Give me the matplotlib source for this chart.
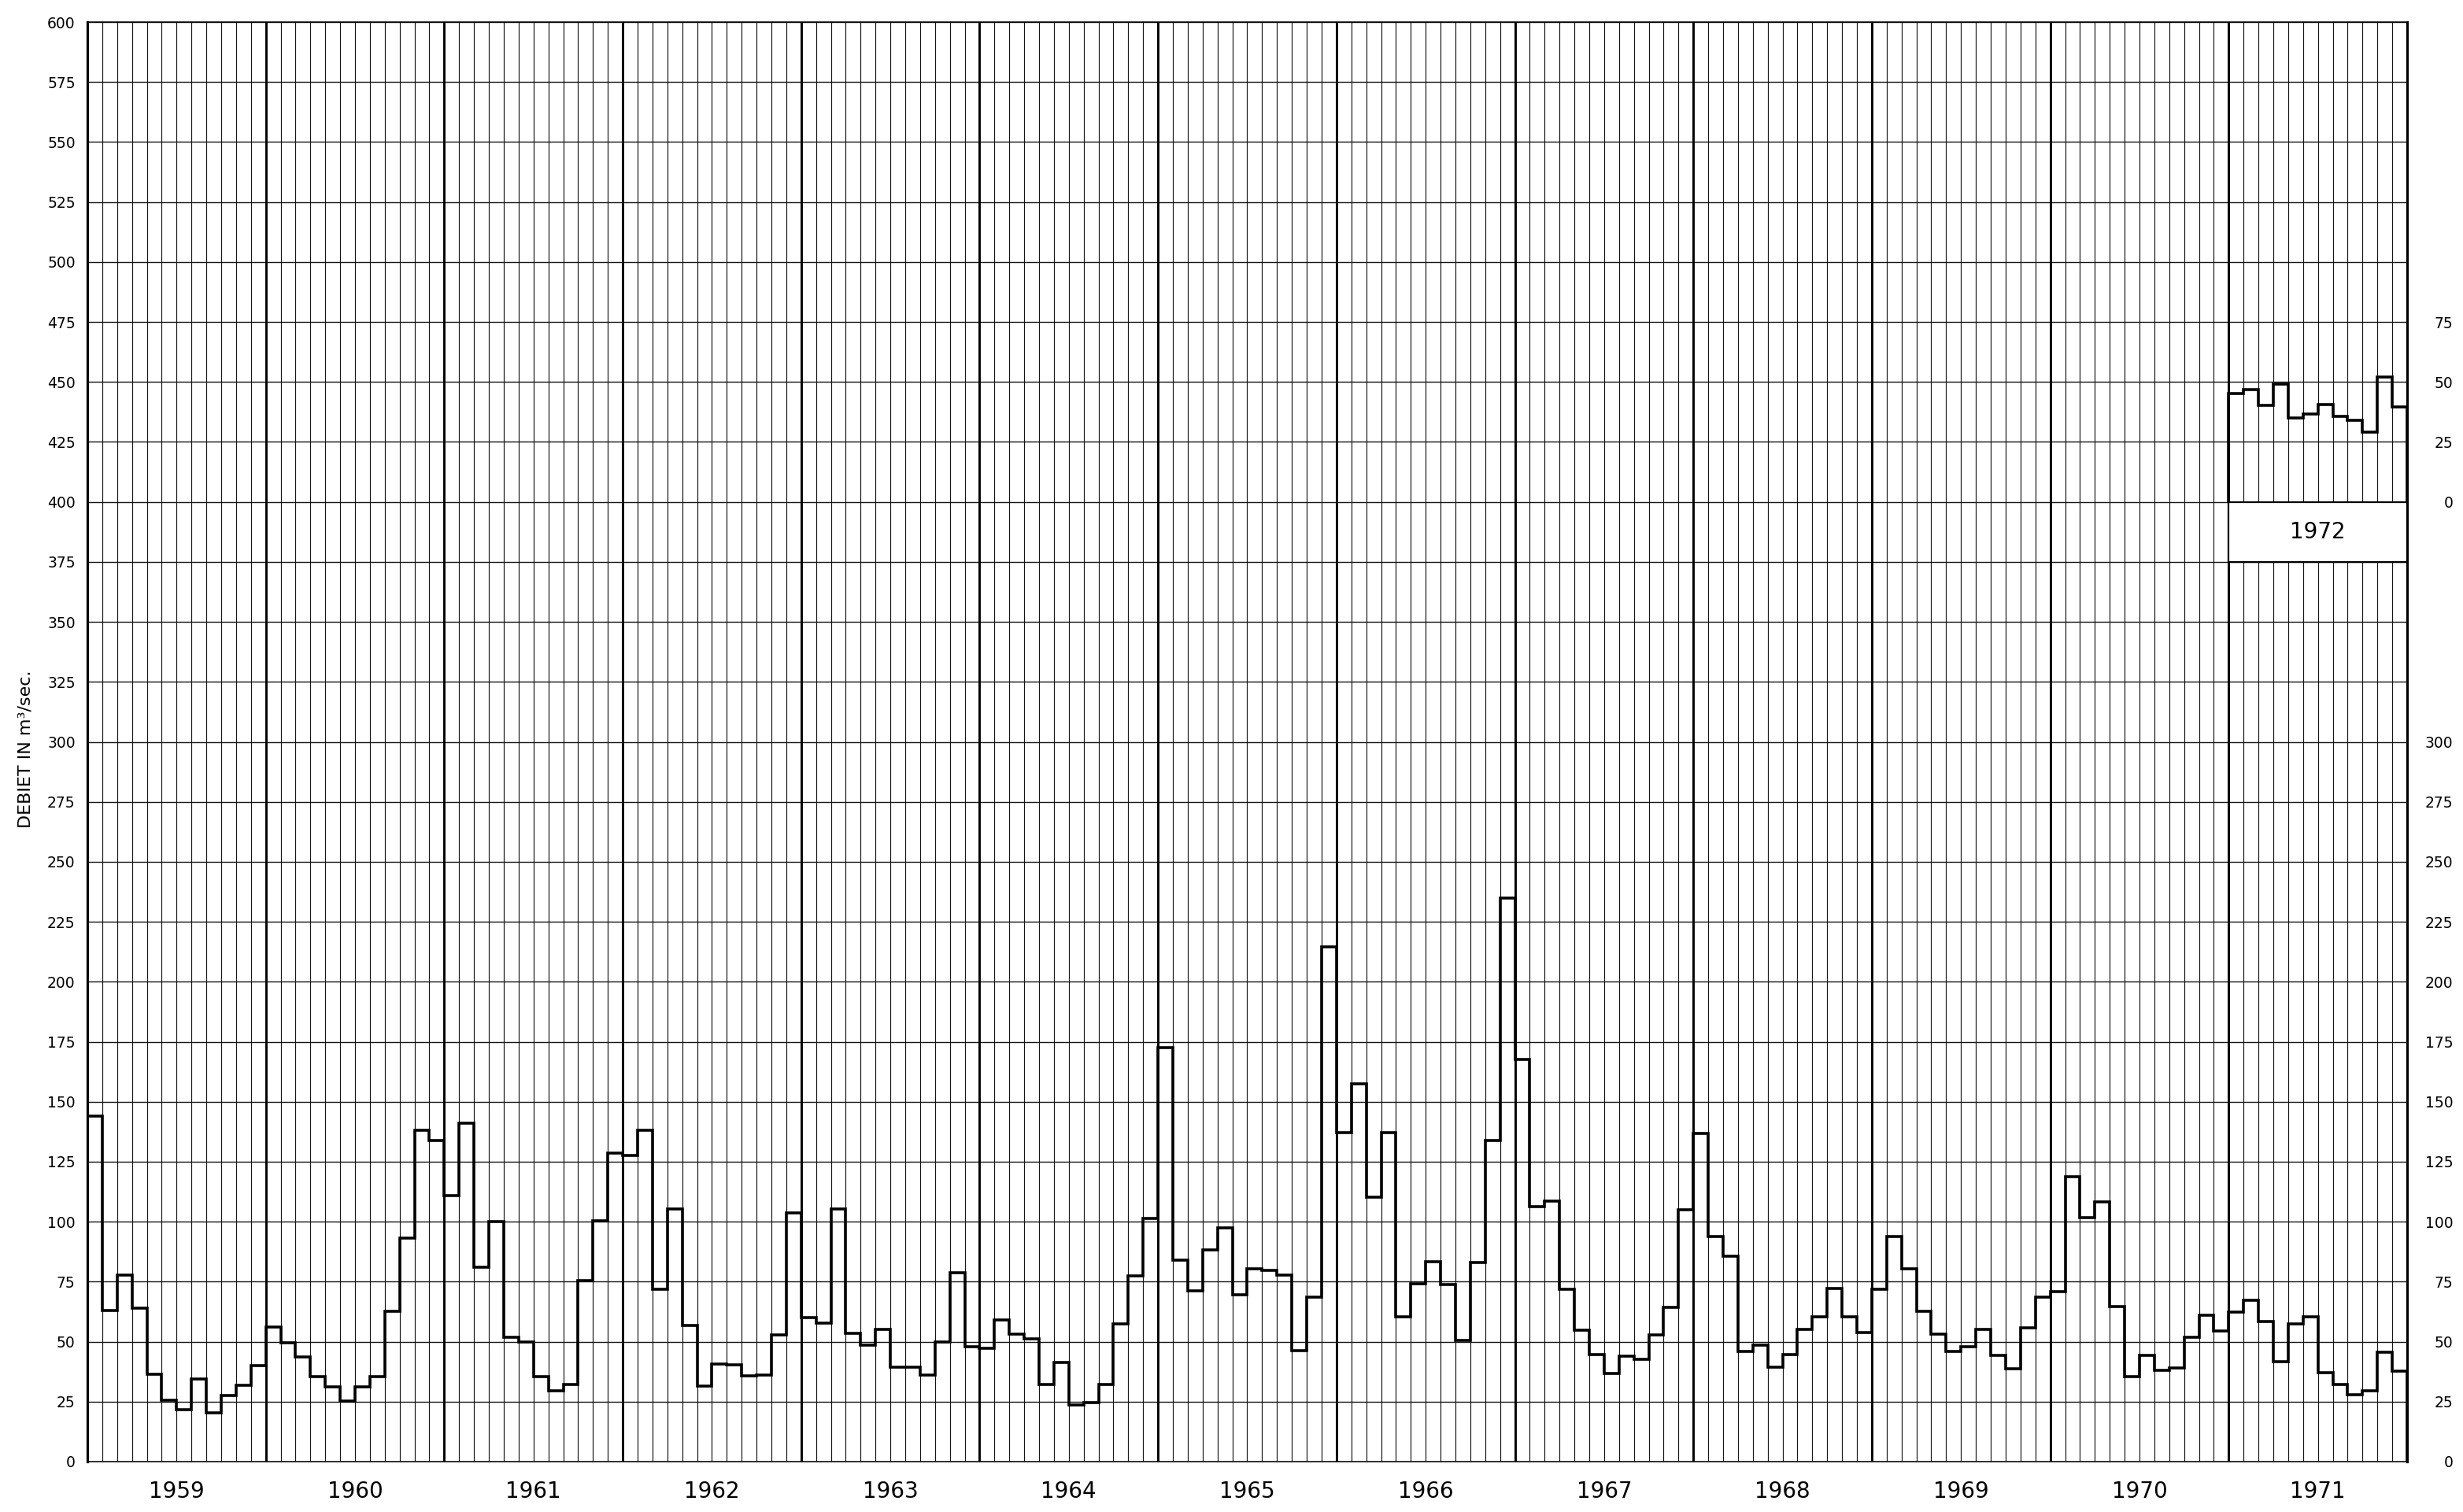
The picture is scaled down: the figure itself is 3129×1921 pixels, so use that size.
import numpy as np
import matplotlib
matplotlib.use("Agg")
import matplotlib.pyplot as plt
from matplotlib.patches import Rectangle

# ---------------- data (monthly discharge, m3/sec) ----------------
years = [1959, 1960, 1961, 1962, 1963, 1964, 1965, 1966, 1967, 1968, 1969, 1970, 1971]

q1959 = [144, 63, 77.7, 64, 36.5, 25.7, 21.8, 34.3, 20.5, 27.5, 31.8, 40]
q1960 = [56, 49.5, 43.7, 35.3, 31, 25.3, 31.2, 35.3, 62.5, 93, 138, 134]
q1961 = [111, 141, 81, 100, 51.7, 50, 35.5, 29.5, 32, 75.5, 100.5, 128.7]
q1962 = [127.5, 138, 71.7, 105.3, 56.7, 31.5, 40.8, 40.5, 35.8, 36.2, 52.8, 103.8]
q1963 = [60, 57.8, 105.3, 53.5, 48.7, 55, 39.2, 39.5, 36.2, 50, 78.7, 47.8]
q1964 = [47.2, 59.2, 53.2, 51.3, 32.2, 41.3, 23.7, 24.7, 32, 57.5, 77.5, 101.5]
q1965 = [172.7, 84, 71.2, 88.3, 97.3, 69.5, 80.3, 79.7, 77.8, 46.2, 68.7, 214.7]
q1966 = [137, 157.5, 110.3, 137.2, 60.5, 74, 83.3, 73.8, 50.5, 83, 133.7, 235]
q1967 = [167.5, 106.3, 108.7, 72, 54.7, 44.7, 36.7, 43.8, 42.5, 52.8, 64.2, 105]
q1968 = [136.7, 93.8, 85.5, 45.8, 48.7, 39.2, 44.7, 55, 60.5, 72.2, 60.5, 53.8]
q1969 = [71.7, 93.8, 80.3, 62.8, 53, 45.8, 48, 55, 44.2, 38.7, 55.9, 68.6]
q1970 = [70.7, 118.7, 101.8, 108.2, 64.7, 35.5, 44.3, 38, 39, 51.8, 61, 54.3]
q1971 = [62.2, 67.2, 58.3, 41.6, 57.5, 60.3, 37, 32, 28, 29.5, 45.5, 37.8]

inset_year = "1972"
q1972 = [45, 46.9, 40.2, 49.2, 35, 36.5, 40.6, 35.8, 33.9, 29.1, 52, 39.6]

left_ticks = list(range(0, 601, 25))
right_ticks = list(range(0, 301, 25))
inset_ticks = [0, 25, 50, 75]
inset_offset = 400          # inset zero line on main scale
inset_box_bottom = 375      # bottom of the label box of the inset

ylabel = "DEBIET IN m³/sec."

# ---------------- figure ----------------
plt.rcParams["font.family"] = ["DejaVu Sans"]
fig = plt.figure(figsize=(31.29, 19.21), dpi=100)
fig.patch.set_facecolor("white")
ax = fig.add_axes([0.03547, 0.03332, 0.94184, 0.9521])

series = [q1959, q1960, q1961, q1962, q1963, q1964, q1965,
          q1966, q1967, q1968, q1969, q1970, q1971]
values = np.concatenate([np.asarray(s, float) for s in series])
n = len(values)
edges = np.arange(n + 1)

ax.set_xlim(0, n)
ax.set_ylim(0, 600)

# month / year vertical grid
for e in edges:
    is_year = (e % 12 == 0)
    ax.axvline(e, color="black" if is_year else "0.08",
               lw=2.1 if is_year else 0.85, zorder=1)

# horizontal grid
ax.set_yticks(left_ticks)
ax.yaxis.grid(True, color="0.08", lw=1.0)
ax.set_axisbelow(True)

# main step series
ax.stairs(values, edges, baseline=0, color="black", lw=2.6, zorder=4)

# 1972 inset on the 1971 columns
x0 = n - 12
inset_edges = np.arange(x0, n + 1)
ax.add_patch(Rectangle((x0, inset_box_bottom), 12, inset_offset - inset_box_bottom,
                       facecolor="white", edgecolor="black", lw=1.6, zorder=3))
ax.stairs(np.asarray(q1972, float) + inset_offset, inset_edges,
          baseline=inset_offset, color="black", lw=2.6, zorder=4)
ax.text(x0 + 6, (inset_box_bottom + inset_offset) / 2, inset_year,
        ha="center", va="center", fontsize=20, zorder=5)

# x labels: years centred in their columns
ax.set_xticks([12 * i + 6 for i in range(len(years))])
ax.set_xticklabels([str(y) for y in years])
ax.tick_params(axis="x", length=0, pad=17, labelsize=20)

# left labels
ax.tick_params(axis="y", length=0, pad=11, labelsize=13.5)

# spines
for side, lw in (("left", 2.3), ("right", 2.3), ("top", 1.1), ("bottom", 1.1)):
    ax.spines[side].set_linewidth(lw)
    ax.spines[side].set_color("black")

# right labels
ax2 = ax.twinx()
ax2.set_ylim(0, 600)
rt = right_ticks + [inset_offset + t for t in inset_ticks]
rl = [str(t) for t in right_ticks] + [str(t) for t in inset_ticks]
ax2.set_yticks(rt)
ax2.set_yticklabels(rl)
ax2.tick_params(axis="y", length=0, pad=42, labelsize=13.5)
for lab in ax2.get_yticklabels():
    lab.set_horizontalalignment("right")
for s in ax2.spines.values():
    s.set_visible(False)

fig.text(33 / 3129, 1 - 952 / 1921, ylabel, rotation=90,
         ha="center", va="center", fontsize=16)

fig.savefig("out.png", dpi=100, facecolor="white")
